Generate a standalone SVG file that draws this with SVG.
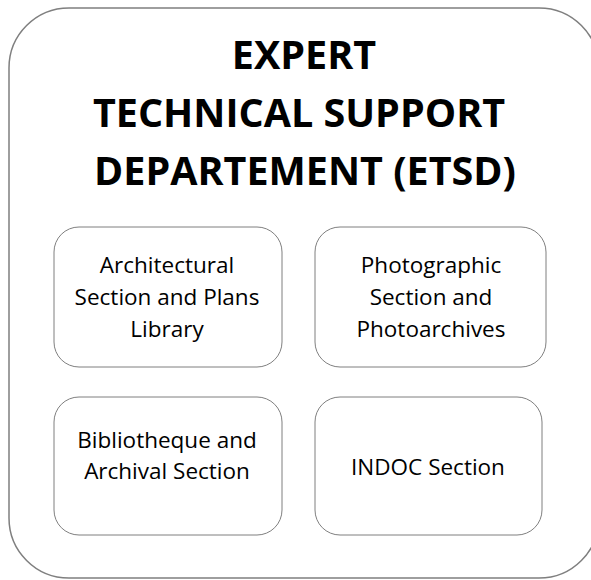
<svg xmlns="http://www.w3.org/2000/svg" width="591" height="580" viewBox="0 0 591 580">
<style>
.outer{fill:#fff;stroke:#7f7f7f;stroke-width:1.5}
.box{fill:#fff;stroke:#7f7f7f;stroke-width:1}
.title{font-family:"Open Sans","Liberation Sans",sans-serif;font-weight:bold;font-size:39.5px;fill:#000;text-anchor:middle}
.lbl{font-family:"Open Sans","Liberation Sans",sans-serif;font-size:22.5px;fill:#000;text-anchor:middle}
</style>
<rect width="591" height="580" fill="#fff"/>
<g id="etsd">
<rect class="outer" x="9" y="8" width="590" height="570" rx="60" ry="60"/>
<text class="title" x="304" y="69">EXPERT</text>
<text class="title" x="299" y="127">TECHNICAL SUPPORT</text>
<text class="title" x="305" y="185">DEPARTEMENT (ETSD)</text>
</g>
<g id="architectural">
<rect class="box" x="54" y="227" width="228" height="140" rx="25" ry="25"/>
<text class="lbl" x="167" y="273">Architectural</text>
<text class="lbl" x="167" y="305">Section and Plans</text>
<text class="lbl" x="167" y="337">Library</text>
</g>
<g id="photographic">
<rect class="box" x="315" y="227" width="231" height="140" rx="25" ry="25"/>
<text class="lbl" x="431" y="273">Photographic</text>
<text class="lbl" x="431" y="305">Section and</text>
<text class="lbl" x="431" y="337">Photoarchives</text>
</g>
<g id="bibliotheque">
<rect class="box" x="54" y="397" width="228" height="138" rx="25" ry="25"/>
<text class="lbl" x="167" y="448">Bibliotheque and</text>
<text class="lbl" x="167" y="479">Archival Section</text>
</g>
<g id="indoc">
<rect class="box" x="315" y="397" width="227" height="138" rx="25" ry="25"/>
<text class="lbl" x="428" y="475">INDOC Section</text>
</g>
<g id="connectors"/>
</svg>
